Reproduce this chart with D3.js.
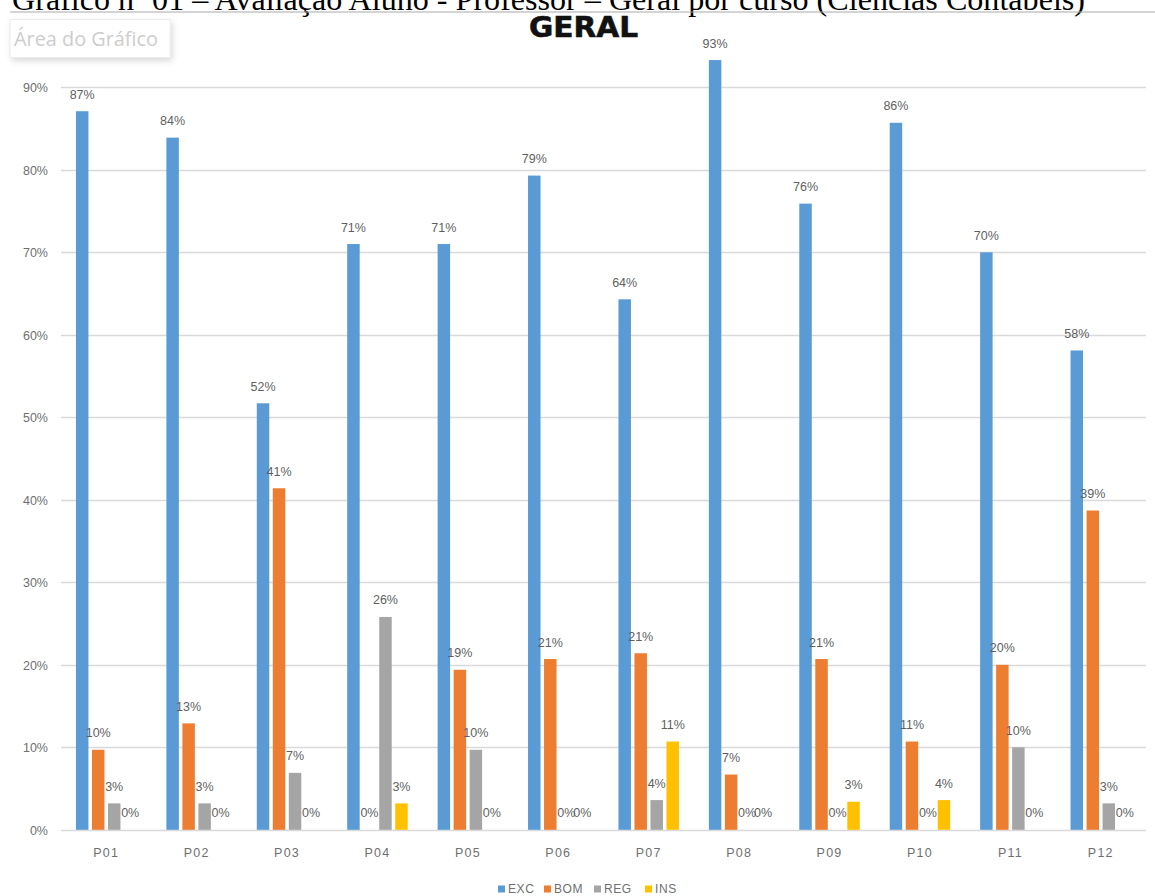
<!DOCTYPE html>
<html><head><meta charset="utf-8">
<script src="https://cdn.jsdelivr.net/npm/d3@7"></script>
<style>
html,body{margin:0;padding:0;background:#fff;overflow:hidden;}
svg{display:block;}
</style></head>
<body>
<svg id="chart" width="1155" height="896"></svg>
<script>
const categories = ["P01","P02","P03","P04","P05","P06","P07","P08","P09","P10","P11","P12"];
const seriesNames = ["EXC","BOM","REG","INS"];
const seriesColors = ["#5B9BD5","#ED7D31","#A5A5A5","#FFC000"];
const excValues = [87.1, 83.9, 51.7, 71.0, 71.0, 79.3, 64.3, 93.3, 75.9, 85.7, 70.0, 58.1];
const bomValues = [9.7, 12.9, 41.4, 0, 19.4, 20.7, 21.4, 6.7, 20.7, 10.7, 20.0, 38.7];
const regValues = [3.2, 3.2, 6.9, 25.8, 9.7, 0, 3.6, 0, 0, 0, 10.0, 3.2];
const insValues = [0, 0, 0, 3.2, 0, 0, 10.7, 0, 3.4, 3.6, 0, 0];
const yTicks = [0,10,20,30,40,50,60,70,80,90];
const titleText = "Gráfico nº 01 – Avaliação Aluno - Professor – Geral por curso (Ciências Contábeis)";
const chartTitle = "GERAL";
const tooltipText = "Área do Gráfico";

const seriesValues = [excValues, bomValues, regValues, insValues];
const svg = d3.select("#chart");
const plotLeft = 61, plotRight = 1146, plotTop = 87.3, plotBottom = 829.8;

const x = d3.scaleBand().domain(categories).range([plotLeft, plotRight]).padding(0);
const y = d3.scaleLinear().domain([0, 90]).range([plotBottom, plotTop]);
const groupW = 60.5;
const x1 = d3.scaleBand().domain(seriesNames).range([0, groupW]).paddingInner(0.22).paddingOuter(0);

// document caption (cut at top)
svg.append("text")
  .attr("x", 12).attr("y", 9.5)
  .attr("font-family", "'Liberation Serif','Times New Roman',serif")
  .attr("font-size", 31).attr("fill", "#000")
  .attr("textLength", 1073).attr("lengthAdjust", "spacingAndGlyphs")
  .text(titleText);
svg.append("line").attr("x1", 10).attr("x2", 1155).attr("y1", 12).attr("y2", 12)
  .attr("stroke", "#a8a8a8").attr("stroke-width", 1);

// chart title
svg.append("text")
  .attr("x", 529).attr("y", 37)
  .attr("font-family", "'DejaVu Sans','Liberation Sans',sans-serif")
  .attr("font-weight", "900").attr("font-size", 28)
  .attr("textLength", 109).attr("lengthAdjust", "spacingAndGlyphs")
  .attr("fill", "#111").attr("stroke", "#111").attr("stroke-width", 0.6)
  .text(chartTitle);

// tooltip box
const defs = svg.append("defs");
const f = defs.append("filter").attr("id","sh").attr("x","-20%").attr("y","-20%").attr("width","140%").attr("height","160%");
f.append("feDropShadow").attr("dx",2).attr("dy",3).attr("stdDeviation",3).attr("flood-color","#000").attr("flood-opacity",0.15);
svg.append("rect").attr("x", 10).attr("y", 19.5).attr("width", 160).attr("height", 38)
  .attr("fill", "#fff").attr("stroke", "#ececec").attr("filter", "url(#sh)");
svg.append("text").attr("x", 14).attr("y", 46)
  .attr("font-family", "'Open Sans','Noto Sans',sans-serif")
  .attr("font-size", 19.5).attr("fill", "#cdcdcd")
  .attr("textLength", 144).attr("lengthAdjust", "spacingAndGlyphs")
  .text(tooltipText);

// gridlines
svg.append("g").selectAll("line").data(yTicks).join("line")
  .attr("x1", plotLeft).attr("x2", plotRight)
  .attr("y1", d => Math.round(y(d)) + 0.5).attr("y2", d => Math.round(y(d)) + 0.5)
  .attr("stroke", "#d9d9d9").attr("stroke-width", 1.5);

// y axis labels
const yAxis = d3.axisLeft(y).tickValues(yTicks).tickSize(0).tickPadding(0).tickFormat(d => d + "%");
const gy = svg.append("g").attr("transform", `translate(48,0)`).call(yAxis);
gy.select(".domain").remove();
gy.selectAll("text").attr("font-family", "'Liberation Sans Narrow','Liberation Sans',sans-serif")
  .attr("font-size", 12.5).attr("fill", "#6f6f6f").attr("dy", "0.35em");

// x axis labels
const xAxis = d3.axisBottom(x).tickSize(0).tickPadding(0);
const gx = svg.append("g").attr("transform", `translate(0,${plotBottom + 18})`).call(xAxis);
gx.select(".domain").remove();
gx.selectAll("text").attr("font-family", "'Liberation Sans Narrow','Liberation Sans',sans-serif")
  .attr("font-size", 12.5).attr("fill", "#6f6f6f").attr("letter-spacing", "1.2px");

// bars
const rows = [];
categories.forEach((c, i) => {
  seriesNames.forEach((s, j) => rows.push({cat: c, s, j, v: seriesValues[j][i]}));
});
const groups = svg.append("g");
const bx = d => x(d.cat) + x.bandwidth()/2 - groupW/2 + x1(d.s);
groups.selectAll("rect").data(rows.filter(d => d.v > 0)).join("rect")
  .attr("x", bx)
  .attr("y", d => y(d.v))
  .attr("width", x1.bandwidth())
  .attr("height", d => y(0) - y(d.v))
  .attr("fill", d => seriesColors[d.j]);

// data labels
groups.selectAll("text").data(rows).join("text")
  .attr("x", d => bx(d) + x1.bandwidth()/2)
  .attr("y", d => y(d.v) - 12.5)
  .attr("text-anchor", "middle")
  .attr("font-family", "'Liberation Sans Narrow','Liberation Sans',sans-serif")
  .attr("font-size", 12.5).attr("fill", "#5f5f5f")
  .text(d => Math.round(d.v) + "%");

// legend
const legendX = [498, 544, 594, 645];
const lg = svg.append("g").selectAll("g").data(seriesNames).join("g")
  .attr("transform", (d, i) => `translate(${legendX[i]},889)`);
lg.append("rect").attr("x", 0).attr("y", -3.5).attr("width", 7).attr("height", 7)
  .attr("fill", (d, i) => seriesColors[i]);
lg.append("text").attr("x", 10).attr("y", 4)
  .attr("font-family", "'Liberation Sans Narrow','Liberation Sans',sans-serif")
  .attr("font-size", 12).attr("fill", "#6f6f6f").attr("letter-spacing", "0.6px")
  .text(d => d);
</script>
</body></html>
